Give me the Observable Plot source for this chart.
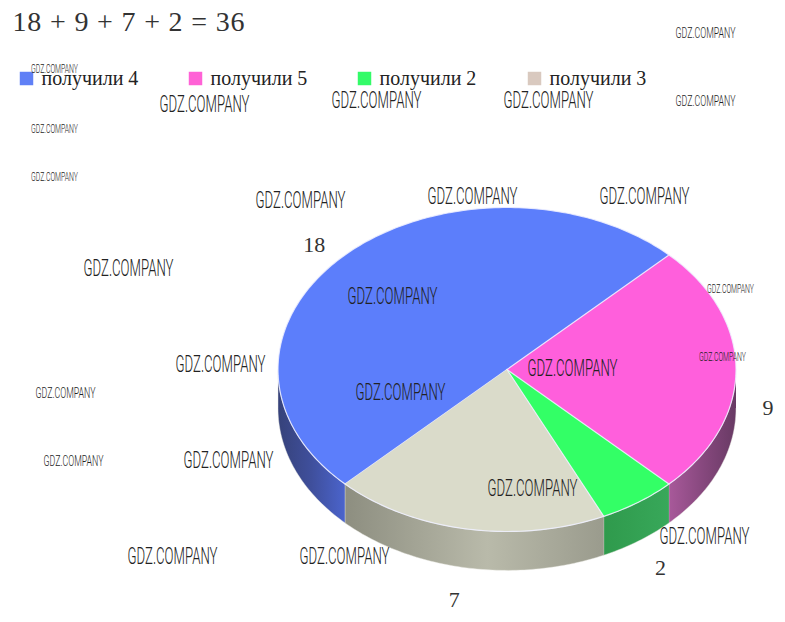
<!DOCTYPE html>
<html>
<head>
<meta charset="utf-8">
<script src="https://cdn.jsdelivr.net/npm/d3@7"></script>
<script src="https://cdn.jsdelivr.net/npm/@observablehq/plot@0.6"></script>
<style>html,body{margin:0;padding:0;background:#fff}svg{display:block}</style>
</head>
<body>
<div id="chart"></div>
<script>
const titleText = "18 + 9 + 7 + 2 = 36";
const sliceNames = ["получили 4", "получили 5", "получили 2", "получили 3"];
const sliceValues = [18, 9, 2, 7];
const topColors = ["#5c7efb", "#ff5fdc", "#33ff66", "#dadbca"];
const legendColors = ["#6080f6", "#ff62d6", "#33fb68", "#d9c9bf"];
const wmLarge = [[204,104],[376,100],[548,100],[300,200],[472,196],[644,196],[128,268],[392,296],[220,364],[572,368],[400,392],[228,460],[532,488],[704,536],[172,556],[344,556]];
const wmMedium = [[705,33],[705,101],[65,393],[73,461]];
const wmSmall = [[54,68],[54,128],[54,176],[730,288],[722,356]];
const legendSwatchX = [26, 195, 364, 534];
const labelNudgeX = [0, 0, 0.016, -0.032];
const depth = 0.24;

const toRad = d => d * Math.PI / 180;
const pie = d3.pie().sort(null).startAngle(toRad(225)).endAngle(toRad(585))(sliceValues);
const slices = pie.map((p, i) => ({name: sliceNames[i], value: p.value, start: p.startAngle, end: p.endAngle, color: topColors[i]}));
const onRim = (a, r = 1) => ({x: r * Math.sin(a), y: -r * Math.cos(a)});
const arcPoints = (a0, a1) => {
  const n = Math.max(2, Math.ceil((a1 - a0) / toRad(1)));
  return d3.range(n + 1).map(k => onRim(a0 + (a1 - a0) * k / n));
};

const topPolys = slices.map(s => ({s, pts: [{x: 0, y: 0}, ...arcPoints(s.start, s.end)]}));

// Visible side wall: the part of each slice on the front half of the rim
const frontStart = toRad(90), frontEnd = toRad(270);
const sidePolys = slices.flatMap((s, i) => {
  const ranges = [[s.start, s.end], [s.start + 2 * Math.PI, s.end + 2 * Math.PI], [s.start - 2 * Math.PI, s.end - 2 * Math.PI]];
  return ranges.map(([a, b]) => [Math.max(a, frontStart), Math.min(b, frontEnd)])
    .filter(([a, b]) => b > a)
    .map(([a, b]) => {
      const rim = arcPoints(a, b);
      return {i, pts: [...rim, ...rim.slice().reverse().map(p => ({x: p.x, y: p.y + depth}))]};
    });
});

const labelData = slices.map((s, i) => {
  const mid = (s.start + s.end) / 2;
  const front = Math.cos(mid) < 0.01;
  const rx = front ? 1.14 : 1.19, ry = front ? 1.2 : 1.19;
  return {x: rx * Math.sin(mid) + labelNudgeX[i], y: -ry * Math.cos(mid) + (front ? depth : 0.07), text: String(s.value)};
});

const wmMarks = (list, size) => list.map(([dx, dy]) =>
  Plot.text(["GDZ.COMPANY"], {frameAnchor: "top-left", dx, dy, textAnchor: "middle", lineAnchor: "middle",
    fontFamily: "Roboto", fontWeight: 300, fontSize: size, fill: "#222"}));

const plot = Plot.plot({
  width: 785, height: 622, margin: 0,
  x: {domain: [-1, 1], range: [277.5, 735.5], axis: null},
  y: {domain: [-1, 1], range: [207, 531], axis: null},
  marks: [
    ...sidePolys.map(p => Plot.line(p.pts, {x: "x", y: "y", fill: `url(#side${p.i})`, stroke: "#e8e8e0", strokeWidth: 0.8, strokeOpacity: 0.55})),
    ...topPolys.map(p => Plot.line(p.pts, {x: "x", y: "y", fill: p.s.color, stroke: "#eef0ff", strokeWidth: 1.2, strokeOpacity: 0.85})),
    Plot.text(labelData, {x: "x", y: "y", text: "text", fontFamily: "Liberation Serif", fontSize: 22, fill: "#333", lineAnchor: "middle"}),
    Plot.text([titleText], {frameAnchor: "top-left", dx: 12, dy: 22, textAnchor: "start", lineAnchor: "middle",
      fontFamily: "Liberation Serif", fontSize: 28, fill: "#333"}),
    ...sliceNames.flatMap((name, i) => [
      Plot.dot([0], {frameAnchor: "top-left", dx: legendSwatchX[i], dy: 78, symbol: "square", r: 7.6, fill: legendColors[i]}),
      Plot.text([name], {frameAnchor: "top-left", dx: legendSwatchX[i] + 15, dy: 78, textAnchor: "start", lineAnchor: "middle",
        fontFamily: "Liberation Serif", fontSize: 20, fill: "#222"})
    ]),
    ...wmMarks(wmLarge, 24),
    ...wmMarks(wmMedium, 15.5),
    ...wmMarks(wmSmall, 12.5)
  ]
});

const sel = d3.select(plot);
const gradients = [
  [[0, "#36427a"], [0.5, "#3f4f9c"], [1, "#4b64cc"]],
  [[0, "#a8599a"], [0.5, "#87487e"], [1, "#683a64"]],
  [[0, "#2f9a4c"], [1, "#38a85a"]],
  [[0, "#8d8e80"], [0.55, "#b9baaa"], [1, "#9a9b8d"]]
];
const defs = sel.insert("defs", ":first-child");
gradients.forEach((g, i) => {
  const lg = defs.append("linearGradient").attr("id", `side${i}`).attr("x1", 0).attr("x2", 1).attr("y1", 0).attr("y2", 0);
  g.forEach(([o, c]) => lg.append("stop").attr("offset", o).attr("stop-color", c));
});
const setLen = {24: 90, 15.5: 60, 12.5: 47};
sel.selectAll("text").each(function () {
  const t = d3.select(this);
  if (t.text() === "GDZ.COMPANY") {
    const fs = parseFloat(this.closest("g").getAttribute("font-size"));
    t.attr("textLength", setLen[fs]).attr("lengthAdjust", "spacingAndGlyphs");
  } else if (t.text() === titleText) {
    t.attr("textLength", 232).attr("lengthAdjust", "spacing");
  }
});
document.getElementById("chart").append(plot);
</script>
</body>
</html>
